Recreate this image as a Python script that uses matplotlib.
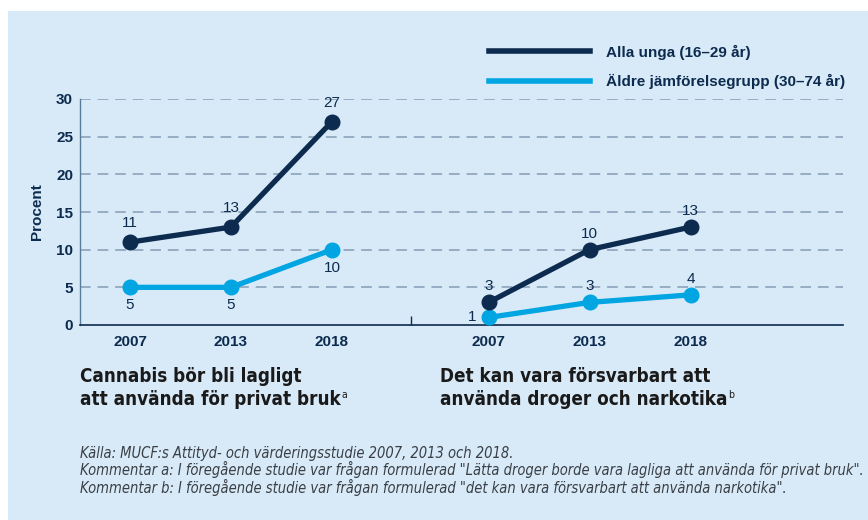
import matplotlib
matplotlib.use("Agg")
import matplotlib.pyplot as plt
from matplotlib.lines import Line2D
from matplotlib.patches import Rectangle

# ---- data ----
years = ["2007", "2013", "2018"]
cannabis_young = [11, 13, 27]
cannabis_older = [5, 5, 10]
drugs_young = [3, 10, 13]
drugs_older = [1, 3, 4]
series_names = ["Alla unga (16–29 år)", "Äldre jämförelsegrupp (30–74 år)"]
yticks = [0, 5, 10, 15, 20, 25, 30]
title_left = ["Cannabis bör bli lagligt", "att använda för privat bruk"]
title_right = ["Det kan vara försvarbart att", "använda droger och narkotika"]
footnotes = [
    "Källa: MUCF:s Attityd- och värderingsstudie 2007, 2013 och 2018.",
    "Kommentar a: I föregående studie var frågan formulerad \"Lätta droger borde vara lagliga att använda för privat bruk\".",
    "Kommentar b: I föregående studie var frågan formulerad \"det kan vara försvarbart att använda narkotika\".",
]

DARK = "#0c2b4e"
LIGHT = "#00a5e1"
BG = "#d8eaf8"
GRID = "#849cb5"
FOOT = "#3a3f45"

plt.rcParams['font.family'] = ['Liberation Sans', 'DejaVu Sans']

fig = plt.figure(figsize=(8.68, 5.2), dpi=100)
fig.patch.set_facecolor("white")
fig.patches.append(Rectangle((8 / 868, 0), 1, 1 - 11 / 520, transform=fig.transFigure,
                             facecolor=BG, edgecolor="none", zorder=-10))

ax = fig.add_axes([80 / 868, 1 - 325 / 520, (843 - 80) / 868, (325 - 99) / 520])
ax.set_facecolor("none")

offset = 3.55
xl = [0, 1, 2]
xr = [offset + i for i in range(3)]

lw = 3.8
ms = 10.5
ax.plot(xl, cannabis_young, color=DARK, lw=lw, marker="o", ms=ms, clip_on=False, zorder=4)
ax.plot(xl, cannabis_older, color=LIGHT, lw=lw, marker="o", ms=ms, clip_on=False, zorder=3)
ax.plot(xr, drugs_young, color=DARK, lw=lw, marker="o", ms=ms, clip_on=False, zorder=4)
ax.plot(xr, drugs_older, color=LIGHT, lw=lw, marker="o", ms=ms, clip_on=False, zorder=3)

lab_kw = dict(textcoords="offset points", ha="center", va="center", fontsize=11, color=DARK, zorder=5)
for x, v in zip(xl, cannabis_young):
    ax.annotate(str(v), (x, v), xytext=(0, 13.5), **lab_kw)
for x, v in zip(xl, cannabis_older):
    ax.annotate(str(v), (x, v), xytext=(0, -13), **lab_kw)
for x, v in zip(xr, drugs_young):
    ax.annotate(str(v), (x, v), xytext=(0, 11.5), **lab_kw)
for i, (x, v) in enumerate(zip(xr, drugs_older)):
    if i == 0:
        ax.annotate(str(v), (x, v), xytext=(-11.5, 0), **lab_kw)
    else:
        ax.annotate(str(v), (x, v), xytext=(0, 11.5), **lab_kw)

ax.set_xlim(-0.495, 7.06)
ax.set_ylim(0, 30)
ax.set_yticks(yticks)
ax.set_yticklabels([str(t) for t in yticks], fontsize=11, fontweight="bold", color=DARK)
ax.set_xticks(xl + xr)
ax.set_xticklabels(years + years, fontsize=11, fontweight="bold", color=DARK)
ax.set_xticks([2.78], minor=True)
ax.tick_params(axis="y", which="major", length=0, pad=5)
ax.tick_params(axis="x", which="major", length=0, pad=7)
ax.tick_params(axis="x", which="minor", direction="in", length=6.5, width=1, color=DARK)
for t in yticks[1:]:
    ax.axhline(t, color=GRID, lw=1.1, dashes=(7, 4.5), zorder=1)
for s in ["top", "right"]:
    ax.spines[s].set_visible(False)
ax.spines["left"].set_color("#5a7a9a")
ax.spines["left"].set_linewidth(1)
ax.spines["bottom"].set_color(DARK)
ax.spines["bottom"].set_linewidth(1.2)
ax.set_ylabel("Procent", fontsize=11, fontweight="bold", color=DARK, labelpad=9)

handles = [Line2D([], [], color=DARK, lw=4), Line2D([], [], color=LIGHT, lw=4)]
fig.legend(handles, series_names, loc="upper left", bbox_to_anchor=(475 / 868, 1 - 31 / 520),
           frameon=False, handlelength=6.6, handletextpad=1.05, labelspacing=0.95,
           prop=dict(family=['Liberation Sans', 'DejaVu Sans'], weight="bold", size=11),
           labelcolor=DARK)

tfam = ['DejaVu Sans']
tkw = dict(fontsize=13.5, fontweight="bold", color="#1a1a1a", family=tfam, stretch="condensed", va="baseline")
fig.text(80 / 868, 1 - 382 / 520, title_left[0], **tkw)
t2 = fig.text(80 / 868, 1 - 405 / 520, title_left[1], **tkw)
fig.text(440 / 868, 1 - 382 / 520, title_right[0], **tkw)
t4 = fig.text(440 / 868, 1 - 405 / 520, title_right[1], **tkw)
fig.canvas.draw()
r = fig.canvas.get_renderer()
for t, sup in [(t2, "a"), (t4, "b")]:
    bb = t.get_window_extent(r)
    fig.text((bb.x1 + 1) / 868, 1 - 398 / 520, sup, fontsize=7.5, color="#1a1a1a", family=tfam,
             stretch="condensed", va="baseline")

fkw = dict(fontsize=10.5, style="italic", color=FOOT, family=tfam, stretch="condensed", va="baseline")
for i, line in enumerate(footnotes):
    fig.text(80 / 868, 1 - (458 + 17.3 * i) / 520, line, **fkw)

fig.savefig("out.png", dpi=100, facecolor=fig.get_facecolor())
